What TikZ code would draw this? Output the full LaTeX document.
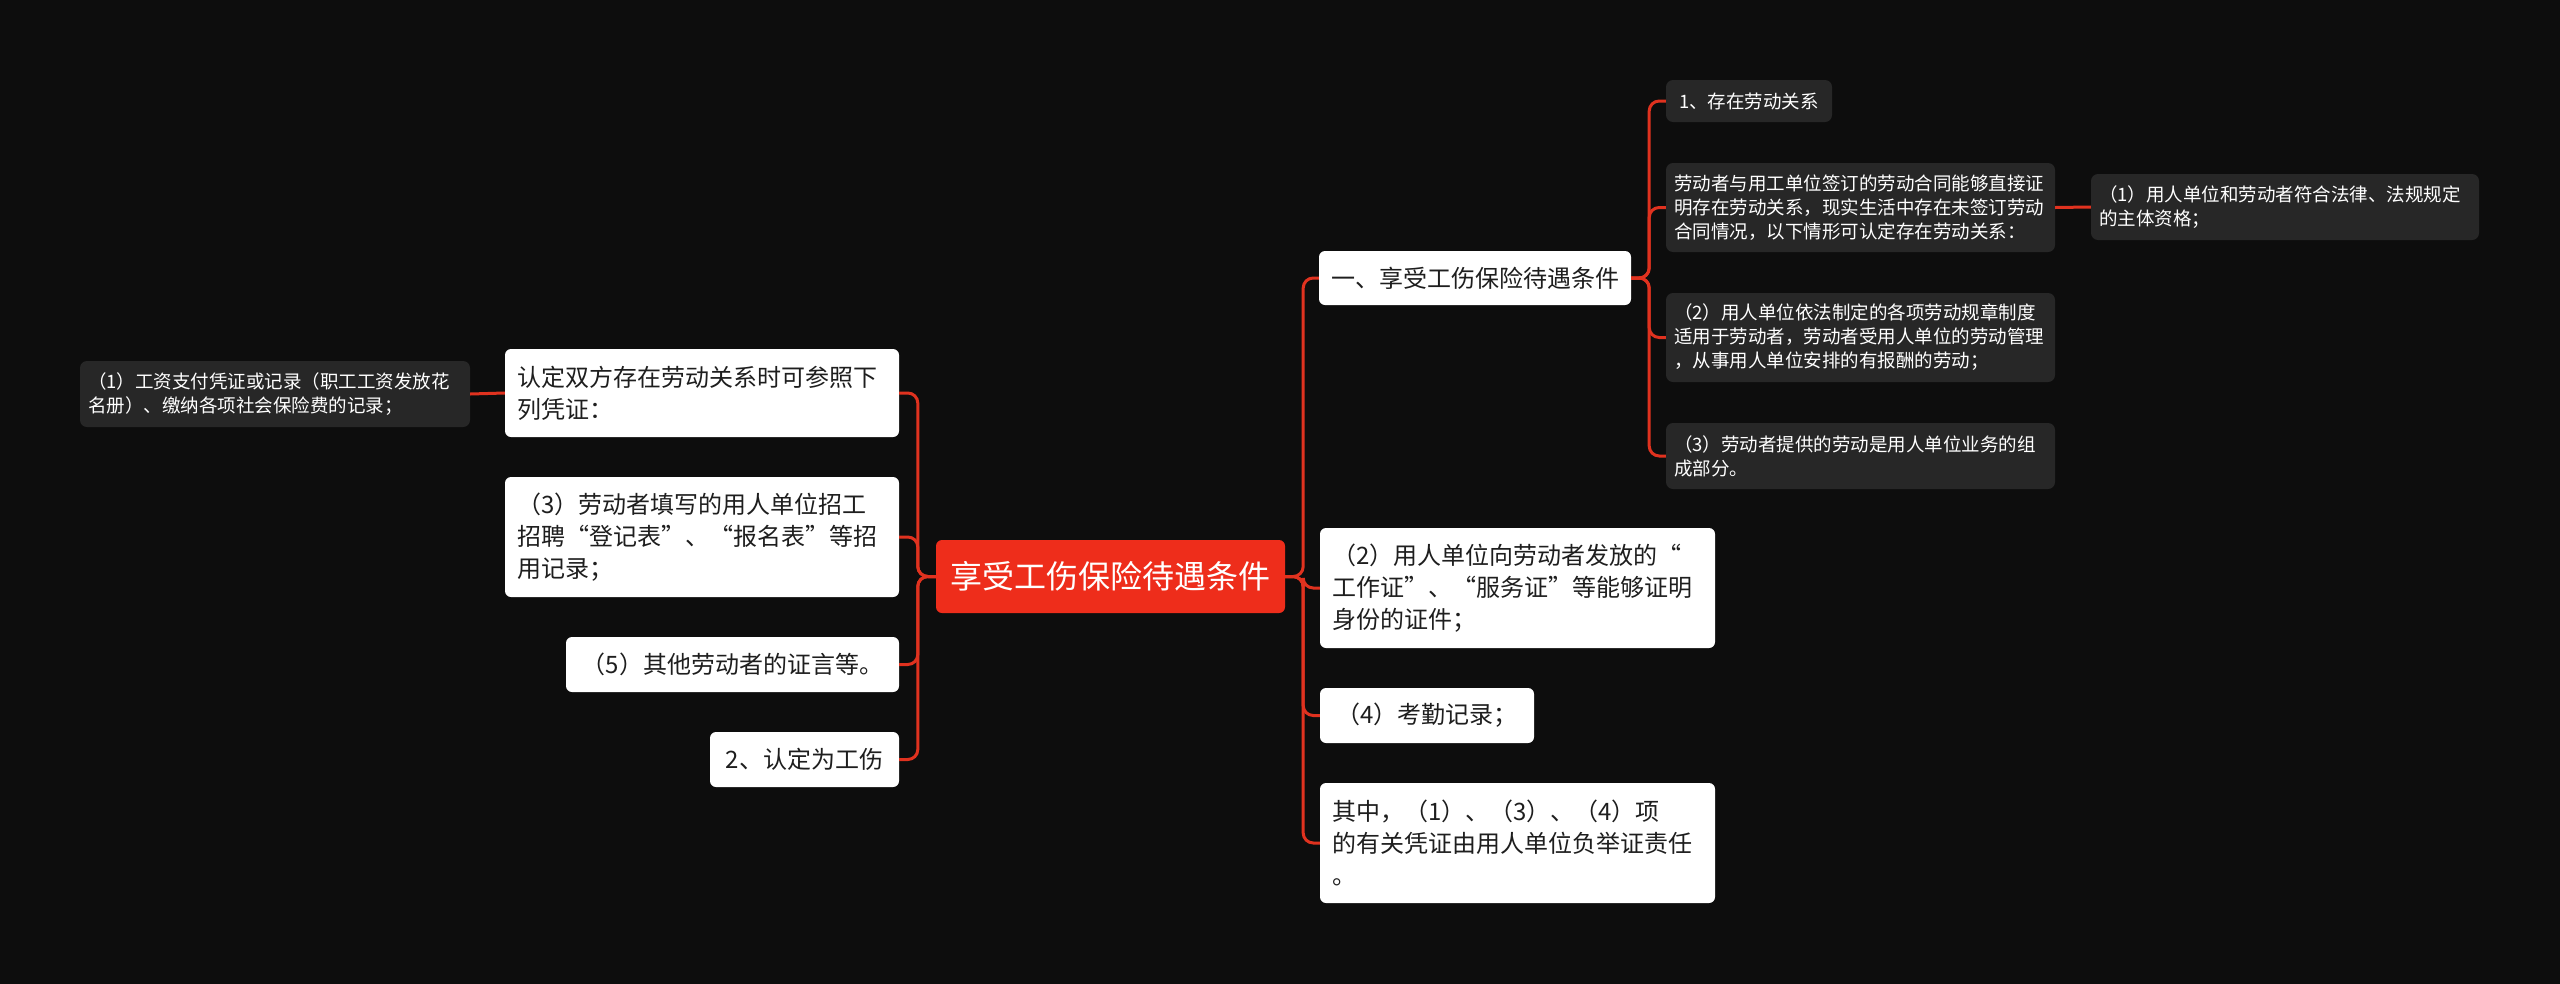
\documentclass[tikz,border=0pt]{standalone}
\usepackage{fontspec}
\setmainfont{Noto Sans CJK SC}
\definecolor{bgblack}{HTML}{0D0D0D}
\definecolor{darkbox}{HTML}{272727}
\definecolor{rootred}{HTML}{EE2D1B}
\definecolor{linkred}{HTML}{E0321F}
\definecolor{ink}{HTML}{1E1E1E}
\begin{document}
\begin{tikzpicture}[x=1pt,y=-1pt,
    link/.style={draw=linkred,line width=3pt,rounded corners=10pt},
    rootbox/.style={fill=rootred,text=white,rounded corners=6pt,inner sep=0pt,
      minimum width=349pt,minimum height=73pt,font=\fontsize{32}{40}\selectfont},
    wbox/.style={fill=white,text=ink,rounded corners=6pt,inner xsep=12pt,inner ysep=0pt,
      align=left,minimum height=55pt,font=\fontsize{24}{32}\selectfont},
    dbox/.style={fill=darkbox,text=white,rounded corners=7pt,inner xsep=8pt,inner ysep=0pt,
      align=left,minimum height=66pt,font=\fontsize{18.5}{24}\selectfont}]
    \useasboundingbox (0,0) rectangle (2560,983);
    \fill[bgblack] (-10,-10) rectangle (2570,993);
    \node[rootbox] (root) at (1110.5,576.5) {享受工伤保险待遇条件};
    \node[wbox,text width=370pt,minimum height=88pt] (L1) at (702,393) {认定双方存在劳动关系时可参照下\\列凭证：};
    \node[wbox,text width=370pt,minimum height=120pt] (L2) at (702,537) {（3）劳动者填写的用人单位招工\\招聘“登记表”、“报名表”等招\\用记录；};
    \node[wbox,minimum width=333pt] (L3) at (732.5,664.5) {（5）其他劳动者的证言等。};
    \node[wbox,minimum width=189pt] (L4) at (804.5,759.5) {2、认定为工伤};
    \node[dbox,text width=374pt] (LL) at (275,394) {（1）工资支付凭证或记录（职工工资发放花\\名册）、缴纳各项社会保险费的记录；};
    \node[wbox,minimum width=310pt,minimum height=54pt] (R1) at (1475,278) {一、享受工伤保险待遇条件};
    \node[wbox,text width=371pt,minimum height=120pt] (R2) at (1517.5,588) {（2）用人单位向劳动者发放的“\\工作证”、“服务证”等能够证明\\身份的证件；};
    \node[wbox,minimum width=214pt] (R3) at (1427,715.5) {（4）考勤记录；};
    \node[wbox,text width=371pt,minimum height=120pt] (R4) at (1517.5,843) {其中，（1）、（3）、（4）项\\的有关凭证由用人单位负举证责任\\。};
    \node[dbox,minimum width=166pt,minimum height=42pt] (A1) at (1749,101) {1、存在劳动关系};
    \node[dbox,text width=373pt,minimum height=89pt] (A2) at (1860.5,207.5) {劳动者与用工单位签订的劳动合同能够直接证\\明存在劳动关系，现实生活中存在未签订劳动\\合同情况，以下情形可认定存在劳动关系：};
    \node[dbox,text width=373pt,minimum height=89pt] (A3) at (1860.5,337.5) {（2）用人单位依法制定的各项劳动规章制度\\适用于劳动者，劳动者受用人单位的劳动管理\\，从事用人单位安排的有报酬的劳动；};
    \node[dbox,text width=373pt] (A4) at (1860.5,456) {（3）劳动者提供的劳动是用人单位业务的组\\成部分。};
    \node[dbox,text width=372pt] (B1) at (2285,207) {（1）用人单位和劳动者符合法律、法规规定\\的主体资格；};
    \draw[link] (root.east) -- ++(18,0) |- (R1.west);
    \draw[link] (root.east) -- ++(18,0) |- (R2.west);
    \draw[link] (root.east) -- ++(18,0) |- (R3.west);
    \draw[link] (root.east) -- ++(18,0) |- (R4.west);
    \draw[link] (root.west) -- ++(-18,0) |- (L1.east);
    \draw[link] (root.west) -- ++(-18,0) |- (L2.east);
    \draw[link] (root.west) -- ++(-18,0) |- (L3.east);
    \draw[link] (root.west) -- ++(-18,0) |- (L4.east);
    \draw[link] (R1.east) -- ++(18,0) |- (A1.west);
    \draw[link] (R1.east) -- ++(18,0) |- (A2.west);
    \draw[link] (R1.east) -- ++(18,0) |- (A3.west);
    \draw[link] (R1.east) -- ++(18,0) |- (A4.west);
    \draw[link] (A2.east) -- (B1.west);
    \draw[link] (L1.west) -- (LL.east);
  \end{tikzpicture}
\end{document}
